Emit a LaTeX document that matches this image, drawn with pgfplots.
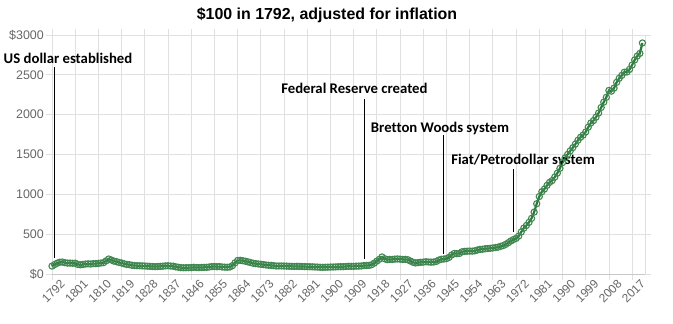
\documentclass[border=0pt]{standalone}
\usepackage{pgfplots}
\pgfplotsset{compat=1.18}
\usepackage{fontspec}
\setmainfont{Liberation Sans}
\newfontfamily\calfont[Ligatures=NoCommon]{Carlito}
\definecolor{lgreen}{HTML}{2B7A3D}
\definecolor{gridc}{HTML}{E0E0E0}
\definecolor{zeroc}{HTML}{C8C8C8}
\definecolor{tickc}{HTML}{666666}
\pgfplotstableread{
year value
1792 100
1793 118
1794 135
1795 148
1796 150
1797 142
1798 137
1799 137
1800 135
1801 136
1802 120
1803 115
1804 120
1805 125
1806 128
1807 125
1808 130
1809 130
1810 133
1811 138
1812 143
1813 165
1814 188
1815 176
1816 162
1817 155
1818 145
1819 138
1820 128
1821 120
1822 117
1823 110
1824 106
1825 104
1826 103
1827 102
1828 100
1829 98
1830 96
1831 94
1832 93
1833 94
1834 96
1835 98
1836 102
1837 103
1838 100
1839 98
1840 90
1841 85
1842 80
1843 78
1844 79
1845 80
1846 80
1847 84
1848 82
1849 80
1850 82
1851 83
1852 84
1853 88
1854 93
1855 94
1856 92
1857 93
1858 88
1859 86
1860 85
1861 88
1862 105
1863 140
1864 170
1865 172
1866 167
1867 160
1868 152
1869 144
1870 135
1871 130
1872 126
1873 122
1874 118
1875 113
1876 110
1877 108
1878 104
1879 100
1880 101
1881 101
1882 100
1883 99
1884 97
1885 96
1886 95
1887 96
1888 95
1889 94
1890 93
1891 92
1892 91
1893 90
1894 88
1895 87
1896 85
1897 84
1898 85
1899 86
1900 87
1901 88
1902 89
1903 91
1904 92
1905 92
1906 94
1907 97
1908 96
1909 96
1910 99
1911 99
1912 101
1913 106
1914 107
1915 108
1916 117
1917 137
1918 162
1919 185
1920 214
1921 192
1922 180
1923 183
1924 183
1925 187
1926 189
1927 186
1928 183
1929 183
1930 179
1931 163
1932 147
1933 139
1934 143
1935 147
1936 149
1937 154
1938 151
1939 149
1940 150
1941 157
1942 174
1943 185
1944 188
1945 193
1946 209
1947 239
1948 258
1949 255
1950 258
1951 278
1952 284
1953 286
1954 288
1955 287
1956 291
1957 301
1958 309
1959 311
1960 317
1961 320
1962 323
1963 327
1964 332
1965 337
1966 347
1967 357
1968 372
1969 393
1970 415
1971 433
1972 447
1973 475
1974 528
1975 576
1976 609
1977 648
1978 698
1979 777
1980 882
1981 973
1982 1033
1983 1066
1984 1112
1985 1151
1986 1173
1987 1216
1988 1266
1989 1327
1990 1398
1991 1457
1992 1501
1993 1546
1994 1586
1995 1631
1996 1679
1997 1717
1998 1744
1999 1783
2000 1843
2001 1895
2002 1925
2003 1969
2004 2021
2005 2090
2006 2157
2007 2218
2008 2304
2009 2295
2010 2334
2011 2406
2012 2457
2013 2493
2014 2533
2015 2536
2016 2568
2017 2623
2018 2687
2019 2736
2020 2769
2021 2900
}\datatable
\begin{document}
\begin{tikzpicture}
\begin{axis}[
  at={(0,0)}, anchor=origin,
  scale only axis, width=593bp, height=239bp,
  xmin=1792, xmax=2022, ymin=0, ymax=3000,
  clip=false,
  axis line style={gridc},
  grid=major, major grid style={gridc, line width=0.8bp},
  tick align=outside, major tick length=6bp,
  tick style={gridc, line width=0.8bp},
  xtick={1792,1801,1810,1819,1828,1837,1846,1855,1864,1873,1882,1891,1900,1909,1918,1927,1936,1945,1954,1963,1972,1981,1990,1999,2008,2017},
  xticklabels={1792,1801,1810,1819,1828,1837,1846,1855,1864,1873,1882,1891,1900,1909,1918,1927,1936,1945,1954,1963,1972,1981,1990,1999,2008,2017},
  ytick={0,500,1000,1500,2000,2500,3000},
  yticklabels={\$0,500,1000,1500,2000,2500,\$3000},
  xticklabel style={font=\fontsize{12}{14}\selectfont, text=tickc, rotate=45, anchor=north east, inner sep=0.5bp, xshift=7bp, yshift=-4bp},
  yticklabel style={font=\fontsize{12.5}{14}\selectfont, text=tickc, inner sep=1bp, xshift=-1bp},
]
\addplot[lgreen, line width=2.2bp, mark=o, mark size=3.1bp,
  mark options={draw=lgreen!90, fill=lgreen, fill opacity=0.45, line width=1.1bp}]
  table[x=year, y=value] {\datatable};
\draw[zeroc, line width=1bp] (axis cs:1792,0) -- (axis cs:2022,0);
\draw[black, line width=0.9bp] (axis cs:1793,200) -- (axis cs:1793,2597);
\draw[black, line width=0.9bp] (axis cs:1913,188) -- (axis cs:1913,2196);
\draw[black, line width=0.9bp] (axis cs:1944,251) -- (axis cs:1944,1744);
\draw[black, line width=0.9bp] (axis cs:1971,527) -- (axis cs:1971,1317);
\tikzset{ann/.style={font=\calfont\bfseries\fontsize{14.8}{16}\selectfont, inner sep=0pt}}
\node[ann] at (axis cs:1798.2,2710) {US dollar established};
\node[ann] at (axis cs:1909.3,2334) {Federal Reserve created};
\node[ann] at (axis cs:1942.5,1832) {Bretton Woods system};
\node[ann] at (axis cs:1974.7,1430) {Fiat/Petrodollar system};
\end{axis}
\node[font=\bfseries\fontsize{16}{18}\selectfont] at (275bp,259bp) {\$100 in 1792, adjusted for inflation};
\pgfresetboundingbox
\useasboundingbox (-52bp,-50bp) rectangle (621bp,274bp);
\end{tikzpicture}
\end{document}
